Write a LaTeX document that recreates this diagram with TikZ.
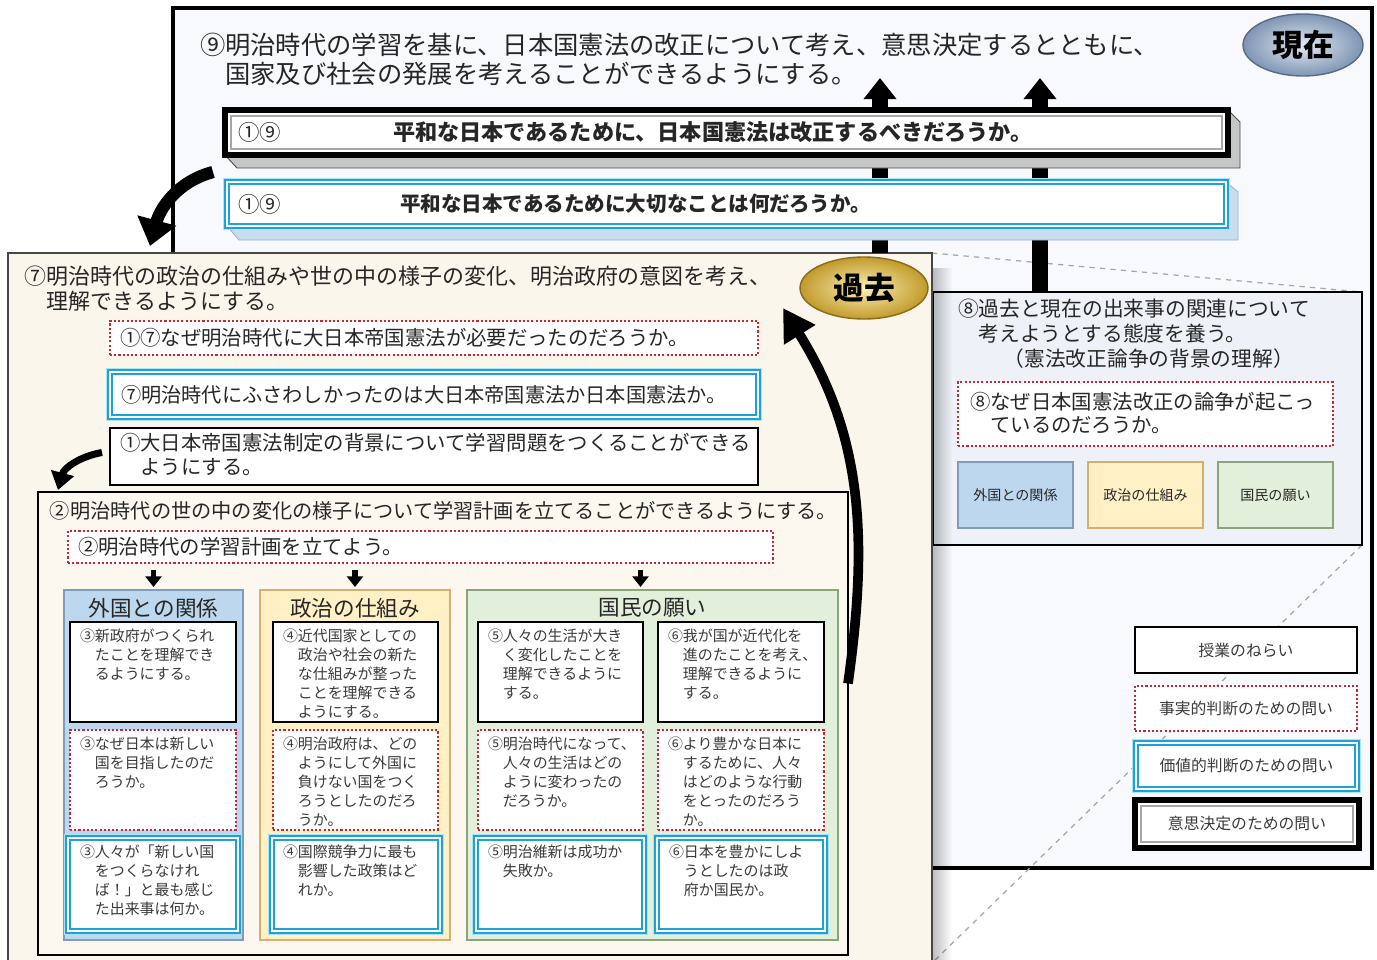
\documentclass[tikz,border=0pt]{standalone}
\usepackage{fontspec}
\setmainfont{Noto Sans CJK JP}
\usetikzlibrary{arrows.meta,shapes.geometric,fadings,calc}
\pgfdeclarelayer{base}\pgfdeclarelayer{lines}\pgfsetlayers{base,lines,main}
\definecolor{bgP}{HTML}{F7F9FC}
\definecolor{bgR}{HTML}{EEF2F8}
\definecolor{bgL}{HTML}{FBF6EC}
\definecolor{bgT}{HTML}{FCF8EF}
\definecolor{redD}{HTML}{C0283C}
\definecolor{cyanC}{HTML}{1CA2D6}
\definecolor{cyanL}{HTML}{AEE3F4}
\definecolor{cA}{HTML}{BDD7EE}\definecolor{cAb}{HTML}{7E9CBC}
\definecolor{cB}{HTML}{FFF0C6}\definecolor{cBb}{HTML}{D4B070}
\definecolor{cC}{HTML}{E2EFDA}\definecolor{cCb}{HTML}{8AA47C}
\definecolor{tx}{HTML}{262626}
\definecolor{ctx}{HTML}{3A3A3A}
\definecolor{nowIn}{HTML}{E2EAF4}
\definecolor{nowOut}{HTML}{7F95B3}
\definecolor{nowB}{HTML}{5A6B82}
\definecolor{pastIn}{HTML}{FCF0B4}
\definecolor{pastOut}{HTML}{C29A2C}
\definecolor{pastB}{HTML}{8A6A18}
\newcommand\fsz[2]{\fontsize{#1pt}{#2pt}\selectfont}
\tikzset{
 sz/.style 2 args={minimum width={#1*0.02cm}, minimum height={#2*0.02cm}, inner sep=0pt, outer sep=0pt, anchor=north west},
 aimbox/.style={draw=black, line width=1.5pt, fill=white},
 factbox/.style={draw=redD, line width=1.2pt, dash pattern=on 1.2pt off 1.2pt, fill=white},
 valbox/.style={preaction={draw=cyanL, line width=5pt}, draw=cyanC, double=white, double distance=1.1pt, line width=1.3pt, fill=white},
 decbox/.style={draw=black, line width=3.2pt, fill=white},
 innergray/.style={draw=gray!70, line width=0.8pt},
 txt/.style={inner sep=0pt, outer sep=0pt, align=left, anchor=north west, text=tx},
 ctxt/.style={txt, font=\fsz{8.5}{10.8}, text=ctx},
 colhead/.style={inner sep=0pt, font=\fsz{12.3}{12.3}, text=tx},
 smalltxt/.style={inner sep=0pt, font=\fsz{8}{8}, text=tx},
 legtxt/.style={inner sep=0pt, font=\fsz{9}{9}, text=ctx},
 upbar/.style={line width=9pt, -{Triangle[width=18pt,length=12pt]}},
 smarrow/.style={line width=3pt, -{Triangle[width=9pt,length=6pt]}, shorten <=0.14cm, shorten >=0.06cm},
 zoomline/.style={draw=gray!70, dashed, line width=0.7pt},
 ell/.style={ellipse, line width=0.8pt, font=\fsz{17.5}{17.5}\bfseries, text=black},
}
\begin{document}
\begin{tikzpicture}[x=0.02cm,y=-0.02cm]
\useasboundingbox (0,0) rectangle (1377,960);
\begin{pgfonlayer}{base}
\fill[white] (0,0) rectangle (1377,960);
\node[sz={1199}{860}, draw=black, line width=1.8pt, fill=bgP] (P9) at (173,8) {};
\end{pgfonlayer}

% present header
\node[ell, draw=nowB, minimum width=2.4cm, minimum height=1.24cm, inner color=nowIn, outer color=nowOut] (now) at (1303,45) {現在};
\node[txt, font=\fsz{14.4}{16.4}] (aim9) at (200,33) {⑨明治時代の学習を基に、日本国憲法の改正について考え、意思決定するとともに、\\　国家及び社会の発展を考えることができるようにする。};

% right panel
\node[sz={429}{253}, draw=black, line width=1.5pt, fill=bgR] (R8) at (933,292) {};
\node[txt, font=\fsz{11.8}{14.2}] (aim8) at (958,299) {⑧過去と現在の出来事の関連について\\　考えようとする態度を養う。\\\hspace*{2.2em}（憲法改正論争の背景の理解）};
\node[factbox, sz={375}{64}] (F8) at (958,382) {};
\node[txt, font=\fsz{11.6}{13}] (F8t) at ([shift={(12,10)}]F8.north west) {⑧なぜ日本国憲法改正の論争が起こっ\\　ているのだろうか。};
\node[sz={115}{66}, fill=cA, draw=cAb, line width=0.8pt] (S1) at (958,462) {};
\node[sz={115}{66}, fill=cB, draw=cBb, line width=0.8pt] (S2) at (1088,462) {};
\node[sz={115}{66}, fill=cC, draw=cCb, line width=0.8pt] (S3) at (1218,462) {};
\node[smalltxt] (S1t) at (S1.center) {外国との関係};
\node[smalltxt] (S2t) at (S2.center) {政治の仕組み};
\node[smalltxt] (S3t) at (S3.center) {国民の願い};

% legend
\node[aimbox, sz={222}{46}] (L1) at (1135,627) {};
\node[legtxt] (L1t) at (L1.center) {授業のねらい};
\node[factbox, sz={222}{45}] (L2) at (1135,686) {};
\node[legtxt] (L2t) at (L2.center) {事実的判断のための問い};
\node[valbox, sz={221}{46}] (L3) at (1136,743) {};
\node[legtxt] (L3t) at (L3.center) {価値的判断のための問い};
\node[decbox, sz={224}{48}] (L4) at (1135,800) {};
\draw[innergray] ([shift={(6,6)}]L4.north west) rectangle ([shift={(-6,-6)}]L4.south east);
\node[legtxt] (L4t) at (L4.center) {意思決定のための問い};

% past panel
\node[sz={924}{710}, draw=gray!55!black, line width=1.4pt, fill=bgL] (past) at (8,253) {};
\fill[black, opacity=0.25, path fading=east] (933,268) rectangle (952,963);
\node[txt, font=\fsz{12.5}{14.2}] (aim7) at (25,266) {⑦明治時代の政治の仕組みや世の中の様子の変化、明治政府の意図を考え、\\　理解できるようにする。};
\node[ell, draw=pastB, minimum width=2.56cm, minimum height=1.24cm, inner color=pastIn, outer color=pastOut] (pastlbl) at (864,288) {過去};

\node[factbox, sz={648}{34}] (Q7f) at (110,321) {};
\node[txt, anchor=west, font=\fsz{11.6}{11.6}] (Q7ft) at ([shift={(10,0)}]Q7f.west) {①⑦なぜ明治時代に大日本帝国憲法が必要だったのだろうか。};
\node[valbox, sz={648}{45}] (Q7v) at (110,372) {};
\node[txt, anchor=west, font=\fsz{11.5}{11.5}] (Q7vt) at ([shift={(11,0)}]Q7v.west) {⑦明治時代にふさわしかったのは大日本帝国憲法か日本国憲法か。};
\node[aimbox, sz={648}{57}] (A1) at (110,428) {};
\node[txt, font=\fsz{11.6}{13.6}] (A1t) at ([shift={(10,5)}]A1.north west) {①大日本帝国憲法制定の背景について学習問題をつくることができる\\　ようにする。};

% step 2 panel
\node[sz={810}{463}, draw=black, line width=1.2pt, fill=bgT] (P2) at (38,492) {};
\node[txt, anchor=west, font=\fsz{11.5}{11.5}] (aim2) at (50,511) {②明治時代の世の中の変化の様子について学習計画を立てることができるようにする。};
\node[factbox, sz={705}{32}] (Q2f) at (68,531) {};
\node[txt, anchor=west, font=\fsz{11.6}{11.6}] (Q2ft) at ([shift={(10,0)}]Q2f.west) {②明治時代の学習計画を立てよう。};

% columns
\node[sz={179}{350}, fill=cA, draw=cAb, line width=0.8pt] (C1) at (64,590) {};
\node[sz={190}{350}, fill=cB, draw=cBb, line width=0.8pt] (C2) at (260,590) {};
\node[sz={371}{350}, fill=cC, draw=cCb, line width=0.8pt] (C3) at (467,590) {};
\node[colhead] (h1) at ([shift={(0,18)}]C1.north) {外国との関係};
\node[colhead] (h2) at ([shift={(0,18)}]C2.north) {政治の仕組み};
\node[colhead] (h3) at ([shift={(0,18)}]C3.north) {国民の願い};

\node[aimbox, sz={166}{100}] (A1c) at (70,622) {};
\node[factbox, sz={166}{100}] (F1c) at (70,730) {};
\node[valbox, sz={170}{93}] (V1c) at (68,838) {};
\node[aimbox, sz={165}{100}] (A2c) at (273,622) {};
\node[factbox, sz={165}{100}] (F2c) at (273,730) {};
\node[valbox, sz={168}{93}] (V2c) at (272,838) {};
\node[aimbox, sz={165}{100}] (A3c) at (478,622) {};
\node[aimbox, sz={166}{100}] (A4c) at (658,622) {};
\node[factbox, sz={165}{100}] (F3c) at (478,730) {};
\node[factbox, sz={166}{100}] (F4c) at (658,730) {};
\node[valbox, sz={168}{93}] (V3c) at (476,838) {};
\node[valbox, sz={168}{93}] (V4c) at (657,838) {};

\node[ctxt] (A1ct) at ([shift={(10,7)}]A1c.north west) {③新政府がつくられ\\　たことを理解でき\\　るようにする。};
\node[ctxt] (F1ct) at ([shift={(10,7)}]F1c.north west) {③なぜ日本は新しい\\　国を目指したのだ\\　ろうか。};
\node[ctxt] (V1ct) at ([shift={(12,7)}]V1c.north west) {③人々が「新しい国\\　をつくらなけれ\\　ば！」と最も感じ\\　た出来事は何か。};
\node[ctxt] (A2ct) at ([shift={(10,7)}]A2c.north west) {④近代国家としての\\　政治や社会の新た\\　な仕組みが整った\\　ことを理解できる\\　ようにする。};
\node[ctxt] (F2ct) at ([shift={(10,7)}]F2c.north west) {④明治政府は、どの\\　ようにして外国に\\　負けない国をつく\\　ろうとしたのだろ\\　うか。};
\node[ctxt] (V2ct) at ([shift={(11,7)}]V2c.north west) {④国際競争力に最も\\　影響した政策はど\\　れか。};
\node[ctxt] (A3ct) at ([shift={(10,7)}]A3c.north west) {⑤人々の生活が大き\\　く変化したことを\\　理解できるように\\　する。};
\node[ctxt] (A4ct) at ([shift={(10,7)}]A4c.north west) {⑥我が国が近代化を\\　進のたことを考え、\\　理解できるように\\　する。};
\node[ctxt] (F3ct) at ([shift={(10,7)}]F3c.north west) {⑤明治時代になって、\\　人々の生活はどの\\　ように変わったの\\　だろうか。};
\node[ctxt] (F4ct) at ([shift={(10,7)}]F4c.north west) {⑥より豊かな日本に\\　するために、人々\\　はどのような行動\\　をとったのだろう\\　か。};
\node[ctxt] (V3ct) at ([shift={(12,7)}]V3c.north west) {⑤明治維新は成功か\\　失敗か。};
\node[ctxt] (V4ct) at ([shift={(12,7)}]V4c.north west) {⑥日本を豊かにしよ\\　うとしたのは政\\　府か国民か。};

% zoom lines
\begin{pgfonlayer}{lines}
\draw[zoomline] (past.north east) -- (R8.north east);
\draw[zoomline] (R8.south east) -- (past.south east);
\end{pgfonlayer}

% up bars
\coordinate (up1) at (880,78);
\coordinate (up2) at (1040,78);
\draw[upbar] (past.north -| up1) -- (up1);
\draw[upbar] (R8.north -| up2) -- (up2);

% top question boxes
\node[sz={1003}{45}] (Q19d) at (225,110) {};
\filldraw[fill=gray!45, draw=gray!60!black, line width=0.5pt] (Q19d.north east) -- ([shift={(12,12)}]Q19d.north east) -- ([shift={(12,13)}]Q19d.south east) -- ([shift={(12,13)}]Q19d.south west) -- (Q19d.south west) -- cycle;
\node[decbox, sz={1003}{45}] (Q19dB) at (225,110) {};
\draw[innergray] ([shift={(6,6)}]Q19dB.north west) rectangle ([shift={(-6,-6)}]Q19dB.south east);
\node[txt, anchor=west, font=\fsz{12.2}{12.2}] (Q19dn) at (238,132) {①⑨};
\node[txt, anchor=west, font=\fsz{12.6}{12.6}\bfseries] (Q19dt) at (393,132) {平和な日本であるために、日本国憲法は改正するべきだろうか。};

\node[sz={999}{44}] (Q19v) at (227,182) {};
\filldraw[fill={rgb,255:red,201;green,221;blue,240}, draw={rgb,255:red,150;green,180;blue,210}, line width=0.5pt] (Q19v.north east) -- ([shift={(12,10)}]Q19v.north east) -- ([shift={(12,14)}]Q19v.south east) -- ([shift={(12,14)}]Q19v.south west) -- (Q19v.south west) -- cycle;
\node[valbox, sz={999}{44}] (Q19vB) at (227,182) {};
\node[txt, anchor=west, font=\fsz{12.2}{12.2}] (Q19vn) at (238,204) {①⑨};
\node[txt, anchor=west, font=\fsz{11.7}{11.7}\bfseries] (Q19vt) at (400,204) {平和な日本であるために大切なことは何だろうか。};

% curved arrows
\draw[line width=7pt, -{Triangle[width=22pt,length=15pt]}] ([shift={(-14,-32)}]Q19vB.west) to[out=195, in=75] ([shift={(142,-7)}]past.north west);
\draw[line width=4pt, -{Triangle[width=13pt,length=10pt]}] ([shift={(-8,-4)}]A1.west) to[out=190, in=75] ([shift={(20,-2)}]P2.north west);
\coordinate (arcEnd) at (783,308);
\draw[line width=5.5pt, -{Triangle[width=20pt,length=18pt]}] ([shift={(0,-40)}]P2.east) to[out=82, in=-58] (arcEnd);

% small down arrows
\draw[smarrow] (Q2f.south -| C1.north) -- (C1.north);
\draw[smarrow] (Q2f.south -| C2.north) -- (C2.north);
\draw[smarrow] ([shift={(-12,0)}]Q2f.south -| C3.north) -- ([shift={(-12,0)}]C3.north);
\end{tikzpicture}
\end{document}
